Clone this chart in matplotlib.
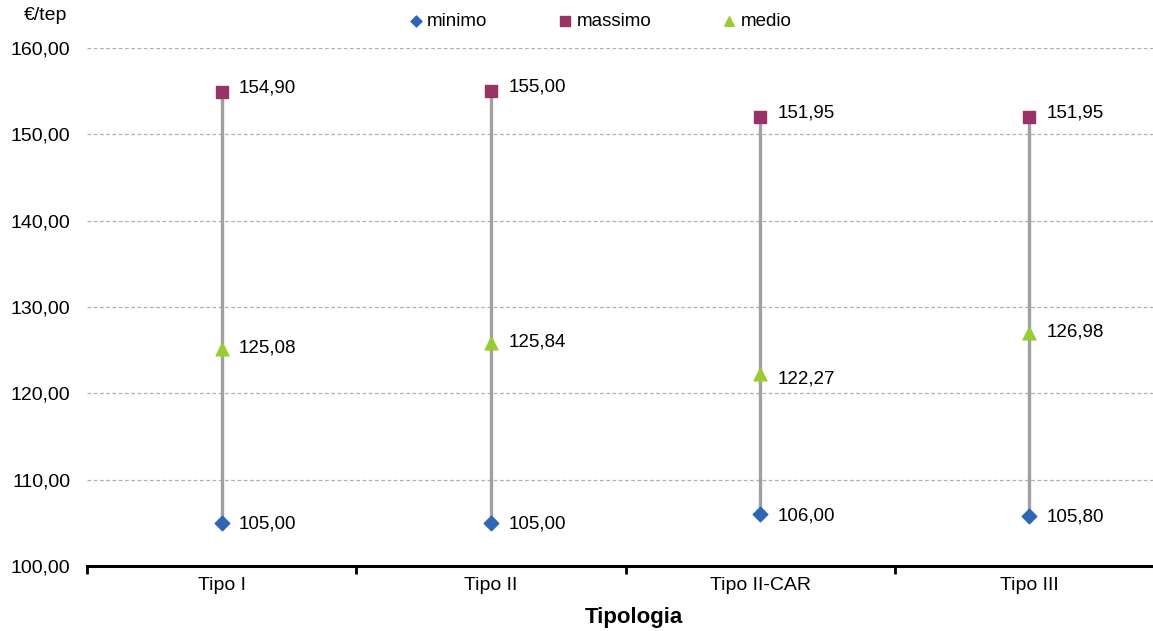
import matplotlib.pyplot as plt
import numpy as np

plt.rcParams['font.family'] = ['Liberation Sans', 'DejaVu Sans']

# dati
categorie = ["Tipo I", "Tipo II", "Tipo II-CAR", "Tipo III"]
minimo = [105.00, 105.00, 106.00, 105.80]
massimo = [154.90, 155.00, 151.95, 151.95]
medio = [125.08, 125.84, 122.27, 126.98]

# spostamento verticale etichette medio (pt), come nel grafico originale
off_medio = [1, 1, -4, 1]


def fmt(v):
    return f"{v:.2f}".replace(".", ",")


fig = plt.figure(figsize=(11.53, 6.31), dpi=100)
ax = fig.add_axes([87 / 1153, 1 - 566 / 631, 1 - 87 / 1153, (566 - 48) / 631])

x = np.arange(len(categorie))

ax.vlines(x, minimo, massimo, color="#A0A0A0", lw=2.4, zorder=2)
ax.scatter(x, minimo, marker="D", s=55, color="#2E66B5", zorder=3, label="minimo")
ax.scatter(x, massimo, marker="s", s=75, color="#993366", zorder=3, label="massimo")
ax.scatter(x, medio, marker="^", s=85, color="#99CC33", zorder=3, label="medio")

for i in range(len(x)):
    ax.annotate(fmt(minimo[i]), (x[i], minimo[i]), xytext=(12.5, -1), textcoords="offset points",
                va="center", ha="left", fontsize=13.5)
    ax.annotate(fmt(massimo[i]), (x[i], massimo[i]), xytext=(12.5, 3), textcoords="offset points",
                va="center", ha="left", fontsize=13.5)
    ax.annotate(fmt(medio[i]), (x[i], medio[i]), xytext=(12.5, off_medio[i]), textcoords="offset points",
                va="center", ha="left", fontsize=13.5)

ax.set_ylim(100, 160)
ax.set_yticks(np.arange(100, 161, 10))
ax.set_yticklabels([fmt(v) for v in np.arange(100, 161, 10)], fontsize=14)
ax.yaxis.grid(True, linestyle=(0, (3, 2)), color="#B0B0B0", lw=0.9)
ax.set_axisbelow(True)

ax.set_xlim(-0.5, 3.5 - 11 / 269)
ax.set_xticks(x)
ax.set_xticklabels(categorie, fontsize=14)
ax.set_xticks(np.arange(-0.5, 3.5, 1), minor=True)
ax.tick_params(axis="x", which="major", length=0, pad=8)
ax.tick_params(axis="x", which="minor", length=6, width=2, direction="out", color="black")
ax.tick_params(axis="y", length=0, pad=12)

for s in ["top", "right", "left"]:
    ax.spines[s].set_visible(False)
ax.spines["bottom"].set_linewidth(2.2)

ax.set_xlabel("Tipologia", fontsize=16, fontweight="bold", va="center")
ax.xaxis.set_label_coords(0.513, -0.1)
fig.text(46 / 1153, 1 - 15 / 631, "€/tep", fontsize=14, ha="center", va="center")

fig.legend(loc="center", bbox_to_anchor=(0.5195, 1 - 21 / 631), ncol=3, frameon=False,
           fontsize=13.5, handlelength=1.0, handletextpad=0.1, columnspacing=3.65,
           scatterpoints=1, markerscale=0.75)

fig.savefig("out.png", dpi=100)
